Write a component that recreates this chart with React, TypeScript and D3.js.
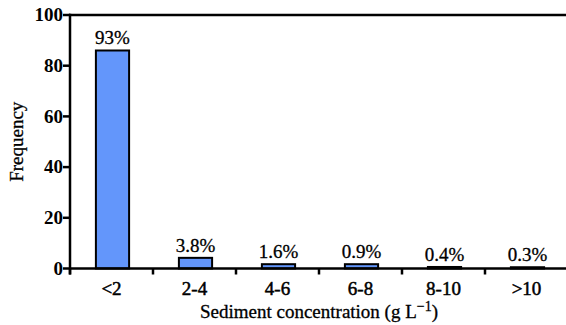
import React from "react";
import * as d3 from "d3";

const categories = ["<2", "2-4", "4-6", "6-8", "8-10", ">10"];
const frequency = [86, 4.2, 1.7, 1.7, 0.6, 0.5];
const percentLabels = ["93%", "3.8%", "1.6%", "0.9%", "0.4%", "0.3%"];
const yTicks = [0, 20, 40, 60, 80, 100];

const W = 566;
const H = 325;
const left = 70;
const right = 568;
const top = 15;
const bottom = 268.5;
const FONT = "Liberation Serif";

export default function App() {
  const x = d3.scaleBand<string>().domain(categories).range([left, right]).paddingInner(0.6).paddingOuter(0.3);
  const xEdge = d3.scaleLinear().domain([0, categories.length]).range([left, right]);
  const y = d3.scaleLinear().domain([0, 100]).range([bottom, top]);
  const tStyle = { fontFamily: FONT };

  return (
    <svg width={W} height={H} style={{ position: "absolute", left: 0, top: 0 }}>
      {categories.map((c, i) => (
        <g key={c}>
          <rect
            x={(x(c) as number) + 1}
            y={y(frequency[i])}
            width={x.bandwidth()}
            height={bottom - y(frequency[i])}
            fill="#6396fb"
            stroke="#000"
            strokeWidth={2}
          />
          <text
            x={(x(c) as number) + 1 + x.bandwidth() / 2}
            y={y(frequency[i]) - 6}
            textAnchor="middle"
            fontSize={19}
            fontFamily={FONT}
            style={tStyle}
            stroke="#000"
            strokeWidth={0.3}
          >
            {percentLabels[i]}
          </text>
          <text
            x={xEdge(i + 0.5)}
            y={295}
            textAnchor="middle"
            fontSize={19}
            fontFamily={FONT}
            style={tStyle}
            stroke="#000"
            strokeWidth={0.5}
          >
            {c}
          </text>
        </g>
      ))}
      {d3.range(0, categories.length + 1).map((i) => (
        <line key={i} x1={xEdge(i)} x2={xEdge(i)} y1={bottom} y2={bottom + 6} stroke="#000" strokeWidth={2.5} />
      ))}
      {yTicks.map((t) => (
        <g key={t}>
          <line x1={left - 7} x2={left} y1={y(t)} y2={y(t)} stroke="#000" strokeWidth={2.5} />
          <text
            x={left - 7}
            y={y(t)}
            dy="0.33em"
            textAnchor="end"
            fontSize={19}
            fontWeight="bold"
            fontFamily={FONT}
            style={tStyle}
          >
            {t}
          </text>
        </g>
      ))}
      <line x1={left} x2={left} y1={top - 1.25} y2={bottom + 6} stroke="#000" strokeWidth={2.5} />
      <line x1={left - 1} x2={W} y1={bottom} y2={bottom} stroke="#000" strokeWidth={2.5} />
      <line x1={left - 1} x2={W} y1={top} y2={top} stroke="#000" strokeWidth={2.5} />
      <text
        x={(left + right) / 2}
        y={318}
        textAnchor="middle"
        fontSize={19}
        fontFamily={FONT}
        style={tStyle}
        stroke="#000"
        strokeWidth={0.3}
      >
        Sediment concentration (g L
        <tspan dy={-7} fontSize={14}>
          −1
        </tspan>
        <tspan dy={7}>)</tspan>
      </text>
      <text
        transform={`translate(23, ${(top + bottom) / 2}) rotate(-90)`}
        textAnchor="middle"
        fontSize={19}
        fontFamily={FONT}
        style={tStyle}
        stroke="#000"
        strokeWidth={0.3}
      >
        Frequency
      </text>
    </svg>
  );
}
